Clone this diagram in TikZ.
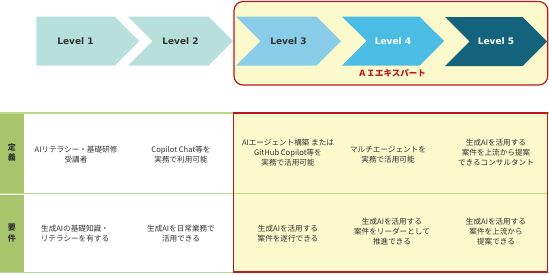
\documentclass[tikz,border=0pt]{standalone}
\usepackage{fontspec}
\setmainfont{Noto Sans CJK JP}
\newfontfamily\lvlfont{DejaVu Sans}
\usetikzlibrary{shapes.symbols}
\definecolor{tealpale}{HTML}{B7DFDB}
\definecolor{skyblue}{HTML}{8ACDE9}
\definecolor{midblue}{HTML}{4BBCE4}
\definecolor{deepteal}{HTML}{13637C}
\definecolor{paleyellow}{HTML}{FCF9CD}
\definecolor{darkred}{HTML}{C0161F}
\definecolor{ruleline}{HTML}{B9D88A}
\definecolor{headgreen}{HTML}{A8C56C}
\definecolor{txtgray}{HTML}{333333}

\begin{document}
\begin{tikzpicture}[
  x=1pt, y=-1pt,
  lvl/.style={signal, signal to=east, signal from=west, signal pointer angle=90,
    minimum height=49pt, minimum width=105pt, inner sep=0pt,
    font=\lvlfont\bfseries\fontsize{9}{11}\selectfont, text=txtgray},
  cell/.style={align=center, inner sep=0pt, text=txtgray,
    font=\fontsize{7.6}{10}\selectfont},
  head/.style={align=center, inner sep=0pt, text=txtgray,
    font=\bfseries\fontsize{8}{10.5}\selectfont}
]
\useasboundingbox (0,0) rectangle (549,274);

% expert frame
\draw[darkred, fill=paleyellow, line width=1.2pt, rounded corners=9pt] (234,1.5) rectangle (547.8,85);

% levels
\node[lvl, signal from=nowhere, minimum width=103pt, fill=tealpale] (lv1) at (75.5,41) {Level 1};
\node[lvl, fill=tealpale] (lv2) at (180.5,41) {Level 2};
\node[lvl, fill=skyblue] (lv3) at (288.5,41) {Level 3};
\node[lvl, fill=midblue, text=white, minimum width=102pt] (lv4) at (393,41) {Level 4};
\node[lvl, fill=deepteal, text=white, minimum width=102pt] (lv5) at (496,41.5) {Level 5};
\node[text=darkred, inner sep=0pt, font=\bfseries\fontsize{8.5}{10}\selectfont] (expert) at (392,73) {ＡＩエキスパート};

% table
\fill[paleyellow] (233.5,113) rectangle (547.8,272);
\fill[headgreen] (0,113) rectangle (24,192.5);
\fill[headgreen] (0,194.5) rectangle (24,272);
\draw[ruleline, line width=1.2pt] (0,113) -- (549,113);
\draw[ruleline, line width=1.2pt] (0,193.5) -- (549,193.5);
\draw[ruleline, line width=1.2pt] (0,272.5) -- (549,272.5);
\draw[darkred, line width=1.1pt] (233.5,113) rectangle (547.8,272);

\node[head] (hdef) at (12,152.5) {定\\義};
\node[head] (hreq) at (12,233) {要\\件};

\node[cell] (d1) at (76,154.5) {AIリテラシー・基礎研修\\受講者};
\node[cell] (d2) at (181,154.5) {Copilot Chat等を\\実務で利用可能};
\node[cell] (d3) at (288,152.5) {AIエージェント構築 または\\GitHub Copilot等を\\実務で活用可能};
\node[cell] (d4) at (388,154.5) {マルチエージェントを\\実務で活用可能};
\node[cell] (d5) at (496,152.5) {生成AIを活用する\\案件を上流から提案\\できるコンサルタント};

\node[cell] (r1) at (75,234) {生成AIの基礎知識・\\リテラシーを有する};
\node[cell] (r2) at (181,234) {生成AIを日常業務で\\活用できる};
\node[cell] (r3) at (288,234) {生成AIを活用する\\案件を遂行できる};
\node[cell] (r4) at (392,232) {生成AIを活用する\\案件をリーダーとして\\推進できる};
\node[cell] (r5) at (496,232) {生成AIを活用する\\案件を上流から\\提案できる};
\end{tikzpicture}
\end{document}
